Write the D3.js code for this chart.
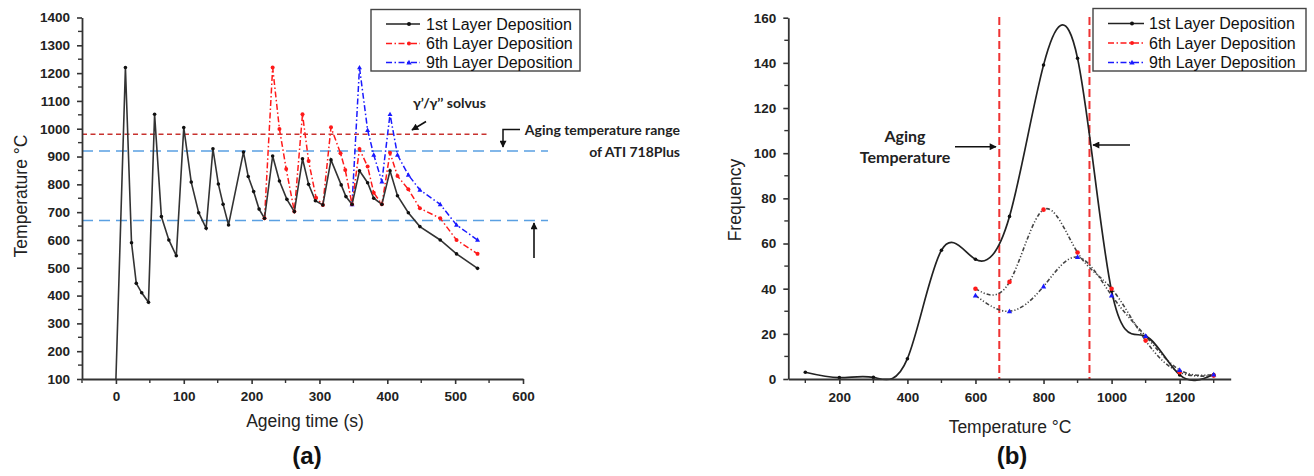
<!DOCTYPE html>
<html><head><meta charset="utf-8">
<script src="https://cdn.jsdelivr.net/npm/d3@7"></script>
<style>
body{margin:0;background:#fff;}
svg{display:block;font-family:"Liberation Sans",Arial,sans-serif;}
</style></head><body>
<svg id="c" width="1314" height="476"></svg>
<script>
// ---------- Panel (a) data ----------
const timeL1 = [0,14,23,30,38,48,57,67,78,89,100,111,122,133,143,151,158,166,188,195,203,211,219,231,241,252,263,275,284,294,305,317,332,339,348,359,371,380,392,404,415,431,448,478,502,533];
const tempL1 = [100,1220,590,444,410,376,1052,684,600,543,1004,808,698,642,928,801,728,654,916,828,774,711,678,902,812,746,702,892,800,741,726,888,798,756,728,849,806,750,728,849,759,698,648,600,550,498];
const timeL6 = [219,231,241,251,263,275,284,295,305,317,331,338,348,359,371,380,392,404,415,431,448,478,502,533];
const tempL6 = [678,1220,999,855,702,1052,884,752,726,1005,912,852,728,927,864,770,728,914,830,782,714,678,600,550];
const timeL9 = [348,359,371,380,392,404,415,431,448,478,502,533];
const tempL9 = [728,1220,995,906,810,1052,906,834,780,728,654,600];
const solvusTemp = 980;
const agingRange = [670, 920];
const xTicksA = [0,100,200,300,400,500,600];
const yTicksA = [100,200,300,400,500,600,700,800,900,1000,1100,1200,1300,1400];

// ---------- Panel (b) data ----------
const tempB1 = [100,200,300,400,500,600,700,800,900,1000,1100,1200,1300];
const freqB1 = [3,0.6,0.7,9,57,53,72,139,142,39,19,1.8,2];
const tempB69 = [600,700,800,900,1000,1100,1200,1300];
const freqB6 = [40,43,75,56,40,17,3,1.5];
const freqB9 = [37,30,41,54,37,19,4,2];
const agingLinesB = [670, 935];
const xTicksB = [200,400,600,800,1000,1200];
const yTicksB = [0,20,40,60,80,100,120,140,160];

const seriesNames = ["1st Layer Deposition","6th Layer Deposition","9th Layer Deposition"];

const svg = d3.select("#c");
svg.append("rect").attr("width",1314).attr("height",476).attr("fill","#fff");

const defs = svg.append("defs");
defs.append("marker").attr("id","arr").attr("viewBox","0 0 10 10").attr("refX",9).attr("refY",5)
  .attr("markerWidth",8).attr("markerHeight",7).attr("markerUnits","userSpaceOnUse").attr("orient","auto")
  .append("path").attr("d","M0,0 L10,5 L0,10 z").attr("fill","#111");

const AX = "#333";
const fmt = d3.format("d");
function styleAxis(g){
  g.selectAll("path.domain").attr("stroke",AX).attr("stroke-width",1.8);
  g.selectAll(".tick line").attr("stroke",AX).attr("stroke-width",1.6);
  g.selectAll(".tick text").attr("font-family","Liberation Sans, Arial, sans-serif")
    .attr("font-size",13.5).attr("font-weight","bold").attr("fill","#222");
}
function minorTicks(g, scale, vals, orient){
  vals.forEach(v=>{
    const p = scale(v);
    if(orient==="bottom") g.append("line").attr("x1",p).attr("x2",p).attr("y1",0).attr("y2",4).attr("stroke",AX).attr("stroke-width",1.4);
    else g.append("line").attr("x1",0).attr("x2",-4).attr("y1",p).attr("y2",p).attr("stroke",AX).attr("stroke-width",1.4);
  });
}
function dot(g, pts, color, r){
  g.selectAll(null).data(pts).enter().append("circle").attr("cx",d=>d[0]).attr("cy",d=>d[1]).attr("r",r).attr("fill",color);
}
function tri(g, pts, color, s){
  g.selectAll(null).data(pts).enter().append("path")
    .attr("d",d=>`M${d[0]},${d[1]-s} L${d[0]+s*0.95},${d[1]+s*0.7} L${d[0]-s*0.95},${d[1]+s*0.7} Z`).attr("fill",color);
}

// ================= Panel (a) =================
const xA = d3.scaleLinear().domain([-50,600]).range([82,523]);
const yA = d3.scaleLinear().domain([100,1400]).range([379,17.5]);
const gA = svg.append("g");

gA.append("line").attr("x1",82).attr("x2",490).attr("y1",yA(solvusTemp)).attr("y2",yA(solvusTemp))
  .attr("stroke","#c8322f").attr("stroke-width",1.6).attr("stroke-dasharray","5,3.5");
agingRange.forEach(v=>{
  gA.append("line").attr("x1",82).attr("x2",548).attr("y1",yA(v)).attr("y2",yA(v))
    .attr("stroke","#5aa0e2").attr("stroke-width",1.6).attr("stroke-dasharray","11,6");
});

const lineA = d3.line().x(d=>xA(d[0])).y(d=>yA(d[1]));
const dA1 = timeL1.map((t,i)=>[t,tempL1[i]]);
const dA6 = timeL6.map((t,i)=>[t,tempL6[i]]);
const dA9 = timeL9.map((t,i)=>[t,tempL9[i]]);

gA.append("path").attr("d",lineA(dA9)).attr("fill","none").attr("stroke","#1a1aff").attr("stroke-width",1.5).attr("stroke-dasharray","6,2.5,1.5,2.5");
gA.append("path").attr("d",lineA(dA6)).attr("fill","none").attr("stroke","#ff1a1a").attr("stroke-width",1.5).attr("stroke-dasharray","6,2.5,1.5,2.5");
gA.append("path").attr("d",lineA(dA1)).attr("fill","none").attr("stroke","#333").attr("stroke-width",1.6);
tri(gA, dA9.map(d=>[xA(d[0]),yA(d[1])]), "#1a1aff", 2.6);
dot(gA, dA6.map(d=>[xA(d[0]),yA(d[1])]), "#ff1a1a", 2);
dot(gA, dA1.slice(1).map(d=>[xA(d[0]),yA(d[1])]), "#111", 1.8);

const axBA = gA.append("g").attr("transform","translate(0,379)")
  .call(d3.axisBottom(xA).tickValues(xTicksA).tickFormat(fmt).tickSize(5).tickSizeOuter(0).tickPadding(7));
styleAxis(axBA);
minorTicks(axBA, xA, [-50,50,150,250,350,450,550], "bottom");
const axLA = gA.append("g").attr("transform","translate(82,0)")
  .call(d3.axisLeft(yA).tickValues(yTicksA).tickFormat(fmt).tickSize(5).tickSizeOuter(0).tickPadding(7));
styleAxis(axLA);
minorTicks(axLA, yA, d3.range(150,1400,100), "left");

gA.append("text").attr("x",305).attr("y",427).attr("text-anchor","middle").attr("font-size",17.5).attr("fill","#222").text("Ageing time (s)");
gA.append("text").attr("transform","translate(27,196) rotate(-90)").attr("text-anchor","middle").attr("font-size",17.5).attr("fill","#222").text("Temperature °C");
gA.append("text").attr("x",307).attr("y",464).attr("text-anchor","middle").attr("font-size",24).attr("font-weight","bold").attr("fill","#111").text("(a)");

const annF = "Lato, 'Open Sans', sans-serif";
gA.append("text").attr("x",413).attr("y",108).attr("font-family",annF).attr("font-weight","bold").attr("font-size",14).attr("fill","#222").text("γ’/γ’’ solvus");
gA.append("line").attr("x1",426).attr("y1",121.5).attr("x2",412).attr("y2",130).attr("stroke","#111").attr("stroke-width",1.6).attr("marker-end","url(#arr)");
gA.append("text").attr("x",680).attr("y",135).attr("text-anchor","end").attr("font-family",annF).attr("font-weight","bold").attr("font-size",14).attr("fill","#222").text("Aging temperature range");
gA.append("text").attr("x",680).attr("y",157).attr("text-anchor","end").attr("font-family",annF).attr("font-weight","bold").attr("font-size",14).attr("fill","#222").text("of ATI 718Plus");
gA.append("path").attr("d","M520,129.5 L503,129.5 L503,147").attr("fill","none").attr("stroke","#111").attr("stroke-width",1.5).attr("marker-end","url(#arr)");
gA.append("line").attr("x1",534).attr("y1",258).attr("x2",534).attr("y2",223).attr("stroke","#111").attr("stroke-width",1.6).attr("marker-end","url(#arr)");

function legend(g, x0, y0, w, h, lx1, lx2, tx, rows){
  g.append("rect").attr("x",x0).attr("y",y0).attr("width",w).attr("height",h).attr("fill","#fff").attr("stroke","#444").attr("stroke-width",1.4);
  const styles = [
    {c:"#222", dash:null, m:"dot", mc:"#111"},
    {c:"#ff1a1a", dash:"6,2.5,1.5,2.5", m:"dot", mc:"#ff1a1a"},
    {c:"#1a1aff", dash:"6,2.5,1.5,2.5", m:"tri", mc:"#1a1aff"}
  ];
  seriesNames.forEach((n,i)=>{
    const y = rows[i], s = styles[i];
    const ln = g.append("line").attr("x1",lx1).attr("x2",lx2).attr("y1",y).attr("y2",y).attr("stroke",s.c).attr("stroke-width",1.6);
    if(s.dash) ln.attr("stroke-dasharray",s.dash);
    const mx = (lx1+lx2)/2+6;
    if(s.m==="dot") dot(g,[[mx,y]],s.mc,2); else tri(g,[[mx,y]],s.mc,2.8);
    g.append("text").attr("x",tx).attr("y",y+5.5).attr("font-size",16).attr("fill","#111").text(n);
  });
}
legend(gA, 371, 9.5, 209, 61.5, 386, 420, 426, [24,43.5,62.5]);

// ================= Panel (b) =================
const xB = d3.scaleLinear().domain([50,1350]).range([788.3,1230.7]);
const yB = d3.scaleLinear().domain([0,160]).range([379,17.7]);
const gB = svg.append("g");

agingLinesB.forEach(v=>{
  gB.append("line").attr("x1",xB(v)).attr("x2",xB(v)).attr("y1",17).attr("y2",379)
    .attr("stroke","#ee3333").attr("stroke-width",2).attr("stroke-dasharray","8,4");
});

const lineB = d3.line().curve(d3.curveNatural).x(d=>xB(d[0])).y(d=>yB(d[1]));
const dB1 = tempB1.map((t,i)=>[t,freqB1[i]]);
const dB6 = tempB69.map((t,i)=>[t,freqB6[i]]);
const dB9 = tempB69.map((t,i)=>[t,freqB9[i]]);
gB.append("path").attr("d",lineB(dB9)).attr("fill","none").attr("stroke","#444").attr("stroke-width",1.6).attr("stroke-dasharray","4,2,1.2,2,1.2,2");
gB.append("path").attr("d",lineB(dB6)).attr("fill","none").attr("stroke","#444").attr("stroke-width",1.6).attr("stroke-dasharray","4,2,1.2,2,1.2,2");
gB.append("path").attr("d",lineB(dB1)).attr("fill","none").attr("stroke","#222").attr("stroke-width",1.7);
dot(gB, dB1.map(d=>[xB(d[0]),yB(d[1])]), "#111", 1.8);
dot(gB, dB6.map(d=>[xB(d[0]),yB(d[1])]), "#ff1a1a", 2.3);
tri(gB, dB9.map(d=>[xB(d[0]),yB(d[1])]), "#1a1aff", 2.8);

const axBB = gB.append("g").attr("transform","translate(0,379)")
  .call(d3.axisBottom(xB).tickValues(xTicksB).tickFormat(fmt).tickSize(5).tickSizeOuter(0).tickPadding(8));
styleAxis(axBB);
minorTicks(axBB, xB, [100,300,500,700,900,1100,1300], "bottom");
const axLB = gB.append("g").attr("transform","translate(788.3,0)")
  .call(d3.axisLeft(yB).tickValues(yTicksB).tickFormat(fmt).tickSize(5).tickSizeOuter(0).tickPadding(7));
styleAxis(axLB);
minorTicks(axLB, yB, d3.range(10,160,20), "left");

gB.append("text").attr("x",1010).attr("y",433).attr("text-anchor","middle").attr("font-size",17.5).attr("fill","#222").text("Temperature °C");
gB.append("text").attr("transform","translate(741,200) rotate(-90)").attr("text-anchor","middle").attr("font-size",17.5).attr("fill","#222").text("Frequency");
gB.append("text").attr("x",1012).attr("y",464).attr("text-anchor","middle").attr("font-size",24).attr("font-weight","bold").attr("fill","#111").text("(b)");

gB.append("text").attr("x",905).attr("y",142).attr("text-anchor","middle").attr("font-family",annF).attr("font-weight","bold").attr("font-size",16).attr("fill","#222").text("Aging");
gB.append("text").attr("x",905).attr("y",163).attr("text-anchor","middle").attr("font-family",annF).attr("font-weight","bold").attr("font-size",16).attr("fill","#222").text("Temperature");
gB.append("line").attr("x1",955).attr("y1",146.7).attr("x2",996).attr("y2",146.7).attr("stroke","#111").attr("stroke-width",1.5).attr("marker-end","url(#arr)");
gB.append("line").attr("x1",1130).attr("y1",145).attr("x2",1093).attr("y2",145).attr("stroke","#111").attr("stroke-width",1.5).attr("marker-end","url(#arr)");

legend(gB, 1093, 8.5, 213, 62.5, 1108, 1144, 1149, [23.5,43,62.5]);
</script></body></html>
